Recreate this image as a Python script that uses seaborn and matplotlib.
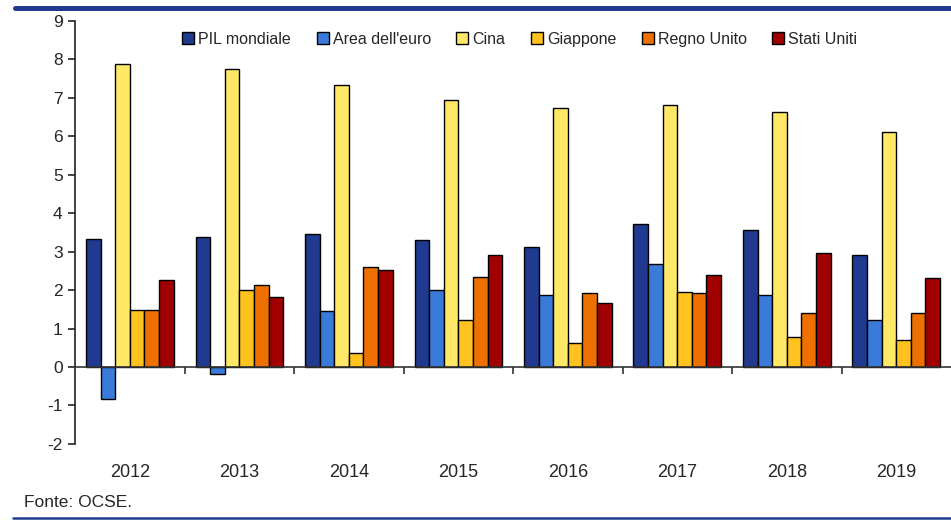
import pandas as pd
import numpy as np
import matplotlib
matplotlib.use('Agg')
import matplotlib.pyplot as plt
import matplotlib.lines as mlines
import seaborn as sns

# dati (crescita % del PIL)
anni = ['2012', '2013', '2014', '2015', '2016', '2017', '2018', '2019']
paesi = ['PIL mondiale', "Area dell'euro", 'Cina', 'Giappone', 'Regno Unito', 'Stati Uniti']
pil_mondiale = [3.34, 3.38, 3.46, 3.30, 3.12, 3.72, 3.56, 2.91]
area_euro = [-0.83, -0.19, 1.45, 2.00, 1.87, 2.69, 1.87, 1.23]
cina = [7.87, 7.75, 7.32, 6.94, 6.73, 6.81, 6.63, 6.12]
giappone = [1.48, 2.00, 0.36, 1.23, 0.62, 1.96, 0.79, 0.71]
regno_unito = [1.48, 2.13, 2.61, 2.35, 1.92, 1.92, 1.40, 1.40]
stati_uniti = [2.26, 1.83, 2.52, 2.91, 1.66, 2.39, 2.96, 2.31]

colori = ['#1F3A8F', '#3A7BD9', '#FFE866', '#FFC21E', '#EE7000', '#A00000']

serie = [pil_mondiale, area_euro, cina, giappone, regno_unito, stati_uniti]
df = pd.DataFrame({
    'anno': np.tile(anni, len(paesi)),
    'paese': np.repeat(paesi, len(anni)),
    'valore': np.concatenate(serie),
})

sns.set_style('white')
plt.rcParams['font.family'] = ['Liberation Sans', 'DejaVu Sans']
plt.rcParams['axes.unicode_minus'] = False

fig = plt.figure(figsize=(9.51, 5.21), dpi=100)
ax = fig.add_axes([0.079, 0.148, 0.921, 0.812])

sns.barplot(data=df, x='anno', y='valore', hue='paese', hue_order=paesi,
            palette=colori, saturation=1, edgecolor='black', linewidth=1,
            width=0.8, gap=0, ax=ax, errorbar=None)

ax.set_ylim(-2, 9)
ax.set_xlim(-0.5, len(anni) - 0.5)
ax.set_yticks(range(-2, 10))
ax.set_xlabel('')
ax.set_ylabel('')

# asse x sullo zero, tacche tra le categorie
ax.spines['top'].set_visible(False)
ax.spines['right'].set_visible(False)
ax.spines['bottom'].set_position(('data', 0))
ax.spines['bottom'].set_color('#333333')
ax.spines['left'].set_color('#222222')
ax.spines['bottom'].set_linewidth(1.2)
ax.spines['left'].set_linewidth(1.2)

ax.set_xticks(np.arange(len(anni)))
ax.set_xticklabels(anni)
ax.set_xticks(np.arange(len(anni) - 1) + 0.5, minor=True)
ax.tick_params(axis='x', which='major', length=0, pad=70, labelsize=13)
ax.tick_params(axis='x', which='minor', length=5, width=1.2, color='#333333', direction='out')
ax.tick_params(axis='y', length=5, width=1.2, color='#222222', direction='out', labelsize=12.5, pad=4)
ax.tick_params(bottom=True, left=True)
ax.tick_params(axis='x', which='minor', bottom=True)

# legenda in alto
handles, labels = ax.get_legend_handles_labels()
ax.get_legend().remove()
fig.legend(handles, labels, loc='center left', bbox_to_anchor=(0.185, 0.925),
           ncol=6, frameon=False, fontsize=11.5, handlelength=0.75, handleheight=0.75,
           handletextpad=0.25, columnspacing=1.6, borderaxespad=0)

# linee blu decorative e fonte
fig.add_artist(mlines.Line2D([0.016, 1.0], [0.985, 0.985], color='#1F3A8F', linewidth=3.6))
fig.add_artist(mlines.Line2D([0.014, 1.0], [0.005, 0.005], color='#1F3A8F', linewidth=1.8))
fig.text(0.025, 0.035, 'Fonte: OCSE.', fontsize=12.5, ha='left', va='center')

plt.savefig('out.png', dpi=100)
